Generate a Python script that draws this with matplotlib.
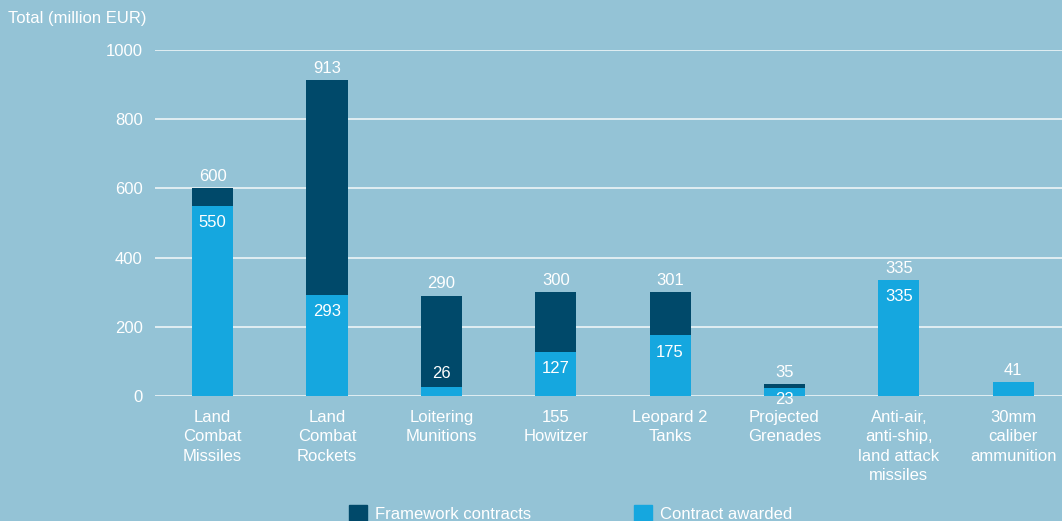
import matplotlib
matplotlib.use("Agg")
import matplotlib.pyplot as plt
from matplotlib.patches import Rectangle

categories = ["Land\nCombat\nMissiles", "Land\nCombat\nRockets", "Loitering\nMunitions",
              "155\nHowitzer", "Leopard 2\nTanks", "Projected\nGrenades",
              "Anti-air,\nanti-ship,\nland attack\nmissiles", "30mm\ncaliber\nammunition"]
framework_total = [600, 913, 290, 300, 301, 35, 335, None]
contract_awarded = [550, 293, 26, 127, 175, 23, 335, 41]
yticks = [0, 200, 400, 600, 800, 1000]

# label placement for the awarded value (style only): offset in points of text centre
awarded_label_offset = [-12, -12, 10, -12, -12, -8.5, -12, 8.5]

BG = "#94c3d6"
DARK = "#00496a"
LIGHT = "#15a7df"
WHITE = "white"
FS = 12

plt.rcParams['font.family'] = ['Liberation Sans', 'DejaVu Sans']
W, H = 1062, 521
fig = plt.figure(figsize=(W/100, H/100), dpi=100, facecolor=BG)
ax = fig.add_axes([155/W, 1-396/H, 1-155/W, 346/H], facecolor=BG)

x = list(range(len(categories)))
bw = 0.36
for yv in yticks:
    ax.axhline(yv, color="#e6f1f5", lw=1.3, zorder=1)

for i in x:
    ft = framework_total[i]
    ca = contract_awarded[i]
    if ft is not None:
        ax.bar(i, ft, width=bw, color=DARK, zorder=2)
        ax.annotate(str(ft), (i, ft), xytext=(0, 8.5), textcoords="offset points",
                    ha="center", va="center", color=WHITE, fontsize=FS, zorder=5)
    ax.bar(i, ca, width=bw, color=LIGHT, zorder=3)
    ax.annotate(str(ca), (i, ca), xytext=(0, awarded_label_offset[i]), textcoords="offset points",
                ha="center", va="center", color=WHITE, fontsize=FS, zorder=5)

ax.set_xlim(-0.503, 7.426)
ax.set_ylim(0, 1000)
ax.set_yticks(yticks)
ax.set_yticklabels([str(v) for v in yticks], color=WHITE, fontsize=FS)
ax.set_xticks(x)
ax.set_xticklabels(categories, color=WHITE, fontsize=FS, linespacing=1.36)
ax.tick_params(axis="both", length=0)
ax.tick_params(axis="y", pad=9)
ax.tick_params(axis="x", pad=10)
for s in ax.spines.values():
    s.set_visible(False)

fig.text(8/W, 1-18/H, "Total (million EUR)", color=WHITE, fontsize=FS,
         ha="left", va="center")

# legend
for (x0, label, col) in [(349, "Framework contracts", DARK), (634, "Contract awarded", LIGHT)]:
    fig.patches.append(Rectangle((x0/W, 0), 18/W, 16/H, transform=fig.transFigure,
                                 color=col, figure=fig))
    fig.text((x0+26)/W, 1-519/H, label, color=WHITE, fontsize=FS,
             ha="left", va="baseline")

fig.savefig("out.png", dpi=100, facecolor=BG)
